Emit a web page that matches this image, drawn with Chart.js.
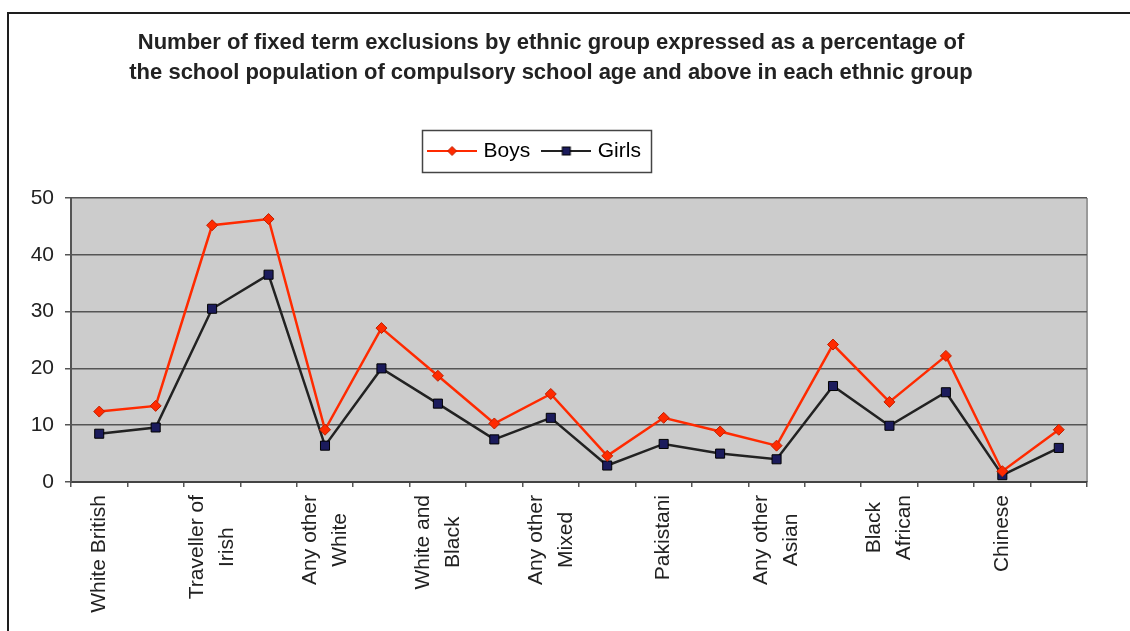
<!DOCTYPE html>
<html>
<head>
<meta charset="utf-8">
<title>Fixed term exclusions by ethnic group</title>
<script src="https://cdn.jsdelivr.net/npm/chart.js@4.4.0/dist/chart.umd.min.js"></script>
<style>
  html, body { margin: 0; padding: 0; background: #fff; overflow: hidden; }
  #frame { position: absolute; left: 7px; top: 12px; width: 1140px; height: 640px;
           border-left: 2px solid #1e1e1e; border-top: 2px solid #1e1e1e; }
  #wrap { position: absolute; left: 0; top: 0; width: 1121px; height: 617px; }
</style>
</head>
<body>
<div id="frame"><div id="wrap"><canvas id="chart"></canvas></div></div>
<script>
// ethnic groups, in table order
const categories = [
  'White British', 'Irish', 'Traveller of Irish heritage', 'Gypsy/Roma',
  'Any other White background', 'White and Black Caribbean', 'White and Black African',
  'White and Asian', 'Any other Mixed background', 'Indian', 'Pakistani', 'Bangladeshi',
  'Any other Asian background', 'Black Caribbean', 'Black African',
  'Any other Black background', 'Chinese', 'Any other ethnic group'
];
// % of pupils with a fixed term exclusion
const boys  = [12.4, 13.4, 45.2, 46.3, 9.2, 27.1, 18.7, 10.3, 15.5, 4.6, 11.3, 8.9, 6.4, 24.2, 14.1, 22.2, 1.9, 9.2];
const girls = [8.5, 9.6, 30.5, 36.5, 6.4, 20.0, 13.8, 7.5, 11.3, 2.9, 6.7, 5.0, 4.0, 16.9, 9.9, 15.8, 1.2, 6.0];
// axis text (only every other group gets a label)
const tickLabels = [
  ['White British'], [], ['Traveller of', 'Irish'], [], ['Any other', 'White'], [],
  ['White and', 'Black'], [], ['Any other', 'Mixed'], [], ['Pakistani'], [],
  ['Any other', 'Asian'], [], ['Black', 'African'], [], ['Chinese'], []
];
const yMin = 0, yMax = 50, yStep = 10;

const FONT = '"Liberation Sans", Arial, Helvetica, sans-serif';
const RED = '#ff2a00';
const NAVY = '#1b1b5c';
const LEGEND_GAP = 26.5;

Chart.defaults.font.family = FONT;
Chart.defaults.color = '#222';

function drawDiamond(g, x, y, r, fill, stroke) {
  g.beginPath();
  g.moveTo(x, y - r); g.lineTo(x + r, y); g.lineTo(x, y + r); g.lineTo(x - r, y);
  g.closePath();
  g.fillStyle = fill; g.fill();
  g.strokeStyle = stroke; g.lineWidth = 1; g.stroke();
}

function drawSquare(g, x, y, s, fill, stroke) {
  g.fillStyle = fill;
  g.fillRect(x - s / 2, y - s / 2, s, s);
  g.strokeStyle = stroke; g.lineWidth = 1;
  g.strokeRect(x - s / 2, y - s / 2, s, s);
}

// legend swatch: short line with the marker on it
function legendIcon(lineColor, marker) {
  const c = document.createElement('canvas');
  c.width = 50; c.height = 14;
  const g = c.getContext('2d');
  g.strokeStyle = lineColor; g.lineWidth = 2;
  g.beginPath(); g.moveTo(0, 7); g.lineTo(50, 7); g.stroke();
  marker(g, 25, 7);
  return c;
}
const boysIcon = legendIcon(RED, (g, x, y) => drawDiamond(g, x, y, 4.5, RED, '#c02000'));
const girlsIcon = legendIcon('#222', (g, x, y) => drawSquare(g, x, y, 8, NAVY, '#000'));

const extras = {
  id: 'extras',
  beforeInit(chart) {
    // leave some room between legend and plot
    const fit = chart.legend.fit;
    chart.legend.fit = function () { fit.call(this); this.height += LEGEND_GAP; };
  },
  afterLayout(chart) {
    chart.titleBlock.left += 3; chart.titleBlock.right += 3;
    chart.legend.left -= 12; chart.legend.right -= 12;
  },
  beforeDraw(chart) {
    const a = chart.chartArea, ctx = chart.ctx;
    ctx.save();
    ctx.fillStyle = '#cccccc';
    ctx.fillRect(a.left, a.top, a.right - a.left, a.bottom - a.top);
    ctx.strokeStyle = '#9a9a9a';
    ctx.lineWidth = 2;
    ctx.beginPath(); ctx.moveTo(a.right, a.top); ctx.lineTo(a.right, a.bottom); ctx.stroke();
    ctx.restore();
  },
  afterDraw(chart) {
    const ctx = chart.ctx;

    // category labels, rotated, lines centred on each other and on the tick
    const xs = chart.scales.x;
    const lh = 30;
    ctx.save();
    ctx.font = '21px ' + FONT;
    ctx.fillStyle = '#222';
    ctx.textAlign = 'center';
    ctx.textBaseline = 'middle';
    tickLabels.forEach((lines, i) => {
      if (!lines.length) return;
      const widest = Math.max(...lines.map(l => ctx.measureText(l).width));
      ctx.save();
      ctx.translate(xs.getPixelForTick(i), xs.top + 13);
      ctx.rotate(-Math.PI / 2);
      lines.forEach((l, j) => {
        ctx.fillText(l, -widest / 2, (j - (lines.length - 1) / 2) * lh);
      });
      ctx.restore();
    });
    ctx.restore();

    // box round the legend
    const boxes = chart.legend.legendHitBoxes;
    if (!boxes || !boxes.length) return;
    const last = boxes[boxes.length - 1];
    const cy = boxes[0].top + boxes[0].height / 2;
    const x0 = boxes[0].left - 9, x1 = last.left + last.width + 10;
    ctx.save();
    ctx.strokeStyle = '#444';
    ctx.lineWidth = 1.5;
    ctx.strokeRect(Math.round(x0) + 0.5, Math.round(cy - 21) + 0.5, Math.round(x1 - x0), 42);
    ctx.restore();
  }
};

new Chart(document.getElementById('chart'), {
  type: 'line',
  data: {
    labels: categories,
    datasets: [{
      label: 'Boys',
      data: boys,
      borderColor: RED,
      borderWidth: 2.5,
      pointStyle: 'rectRot',
      pointRadius: 5.5,
      pointBackgroundColor: RED,
      pointBorderColor: '#c02000',
      pointBorderWidth: 1,
      tension: 0
    }, {
      label: 'Girls',
      data: girls,
      borderColor: '#222',
      borderWidth: 2.5,
      pointStyle: 'rect',
      pointRadius: 6.4,
      pointBackgroundColor: NAVY,
      pointBorderColor: '#000',
      pointBorderWidth: 1,
      tension: 0
    }]
  },
  options: {
    responsive: true,
    maintainAspectRatio: false,
    animation: false,
    layout: { padding: { left: 0, right: 43, top: 0, bottom: 0 } },
    plugins: {
      title: {
        display: true,
        text: ['Number of fixed term exclusions by ethnic group expressed as a percentage of',
               'the school population of compulsory school age and above in each ethnic group'],
        font: { size: 22, weight: 'bold', lineHeight: 30 / 22 },
        color: '#222',
        padding: { top: 14, bottom: 37.5 }
      },
      legend: {
        display: true,
        position: 'top',
        labels: {
          usePointStyle: true,
          pointStyleWidth: 42,
          padding: 15,
          color: '#222',
          font: { size: 21 },
          generateLabels: () => [
            { text: 'Boys', pointStyle: boysIcon, datasetIndex: 0, fillStyle: RED, strokeStyle: RED, lineWidth: 0 },
            { text: 'Girls', pointStyle: girlsIcon, datasetIndex: 1, fillStyle: NAVY, strokeStyle: '#222', lineWidth: 0 }
          ]
        }
      },
      tooltip: { enabled: false }
    },
    scales: {
      x: {
        offset: true,
        afterFit: s => { s.height = 149; },
        grid: { offset: true, drawOnChartArea: false, drawTicks: true, tickLength: 5, color: '#555', lineWidth: 1.5 },
        border: { display: true, color: '#444', width: 2 },
        ticks: { display: false, autoSkip: false }
      },
      y: {
        min: yMin,
        max: yMax,
        afterFit: s => { s.width = 62; },
        grid: { color: '#555', lineWidth: 1.5, tickLength: 6 },
        border: { display: true, color: '#555', width: 2 },
        ticks: { stepSize: yStep, padding: 11, color: '#222', font: { size: 21 } }
      }
    }
  },
  plugins: [extras]
});
</script>
</body>
</html>
